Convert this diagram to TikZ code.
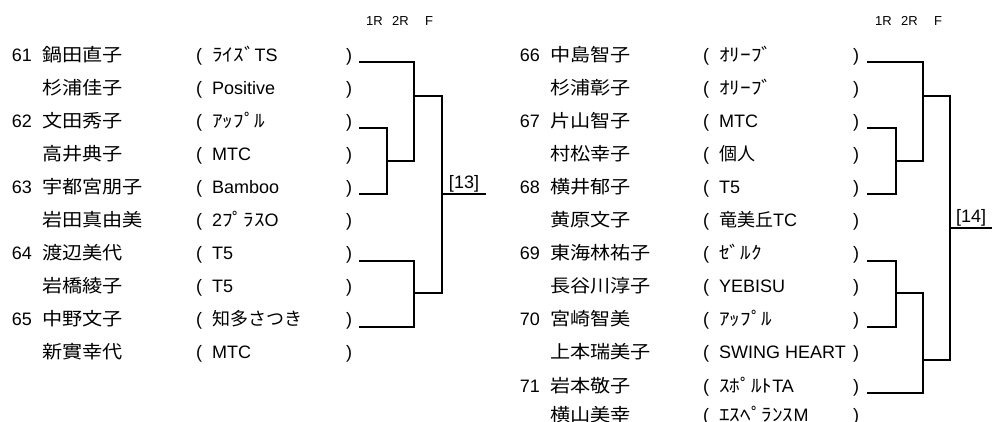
\documentclass[tikz,border=0pt]{standalone}
\usepackage{fontspec}
\setmainfont{Liberation Sans}
\newfontfamily\namefont[FakeStretch=1.12]{Noto Sans CJK JP}
\newfontfamily\kanafont{Noto Sans CJK JP}
\newfontfamily\hkanafont[FakeStretch=1.18]{Noto Sans CJK JP}
\newcommand{\jp}[1]{{\kanafont #1}}
\newcommand{\hk}[1]{{\hkanafont #1}}
\tikzstyle{txt}=[inner sep=0pt, anchor=base west, font=\fontsize{18}{18}\selectfont]
\tikzstyle{seed}=[txt, anchor=base east]
\tikzstyle{player}=[txt, font=\fontsize{18}{18}\selectfont\namefont]
\tikzstyle{rnd}=[inner sep=0pt, anchor=base west, font=\fontsize{13}{13}\selectfont]
\tikzstyle{bracket}=[line width=2pt]

\begin{document}
\begin{tikzpicture}[x=1pt,y=-1pt]
    \useasboundingbox (0,0) rectangle (992,421);
    % round headers
    \node [rnd] (L-h1) at (366,25) {1R};
    \node [rnd] (L-h2) at (392,25) {2R};
    \node [rnd] (L-h3) at (425,25) {F};
    \node [rnd] (R-h1) at (875,25) {1R};
    \node [rnd] (R-h2) at (901,25) {2R};
    \node [rnd] (R-h3) at (934,25) {F};
    % left block
    \foreach \i/\n/\nm/\tm in {0/61/鍋田直子/{\hk{ﾗｲｽﾞ}TS}, 1//杉浦佳子/Positive,
        2/62/文田秀子/{\hk{ｱｯﾌﾟﾙ}}, 3//高井典子/MTC, 4/63/宇都宮朋子/Bamboo,
        5//岩田真由美/{2\hk{ﾌﾟﾗｽ}O}, 6/64/渡辺美代/T5, 7//岩橋綾子/T5,
        8/65/中野文子/{\jp{知多さつき}}, 9//新實幸代/MTC} {
        \node [seed] (L-num-\i) at (32,{61+33.1*\i}) {\n};
        \node [player] (L-nm-\i) at (42,{61+33.1*\i}) {\nm};
        \node [txt] (L-op-\i) at (196,{61+33.1*\i}) {(};
        \node [txt] (L-tm-\i) at (212,{61+33.1*\i}) {\tm};
        \node [txt] (L-cp-\i) at (346,{61+33.1*\i}) {)};
        \coordinate (L-\i) at (359,{62+round(33.1*\i)});
    }
    % right block (last row sits a little higher)
    \foreach \i/\n/\nm/\tm in {0/66/中島智子/{\hk{ｵﾘｰﾌﾞ}}, 1//杉浦彰子/{\hk{ｵﾘｰﾌﾞ}},
        2/67/片山智子/MTC, 3//村松幸子/{\jp{個人}}, 4/68/横井郁子/T5,
        5//黄原文子/{\jp{竜美丘}TC}, 6/69/東海林祐子/{\hk{ｾﾞﾙｸ}}, 7//長谷川淳子/YEBISU,
        8/70/宮崎智美/{\hk{ｱｯﾌﾟﾙ}}, 9//上本瑞美子/SWING HEART,
        10/71/岩本敬子/{\hk{ｽﾎﾟﾙﾄ}TA}, 11//横山美幸/{\hk{ｴｽﾍﾟﾗﾝｽ}M}} {
        \node [seed] (R-num-\i) at (540,{61+33.1*\i-4*(\i==11)}) {\n};
        \node [player] (R-nm-\i) at (550,{61+33.1*\i-4*(\i==11)}) {\nm};
        \node [txt] (R-op-\i) at (703,{61+33.1*\i-4*(\i==11)}) {(};
        \node [txt] (R-tm-\i) at (719,{61+33.1*\i-4*(\i==11)}) {\tm};
        \node [txt] (R-cp-\i) at (853,{61+33.1*\i-4*(\i==11)}) {)};
        \coordinate (R-\i) at (867,{62+round(33.1*\i)});
    }
    % left draw
    \coordinate (La) at (387,161);
    \coordinate (Lb) at (414,96);
    \coordinate (Lc) at (414,293);
    \coordinate (Lf) at (442,194);
    \coordinate (Lend) at (486,194);
    \draw [bracket] (L-2) -| (La) |- (L-4);
    \draw [bracket] (L-0) -| (Lb) |- (La);
    \draw [bracket] (L-6) -| (Lc) |- (L-8);
    \draw [bracket] (Lb) -| (Lf) |- (Lc);
    \draw [bracket] (Lf) -- node [above, inner sep=1pt, font=\fontsize{18}{18}\selectfont] {[13]} (Lend);
    % right draw
    \coordinate (Ra) at (896,161);
    \coordinate (Rb) at (923,96);
    \coordinate (Rc) at (896,293);
    \coordinate (Rd) at (923,360);
    \coordinate (Rf) at (950,228);
    \coordinate (Rend) at (992,228);
    \draw [bracket] (R-2) -| (Ra) |- (R-4);
    \draw [bracket] (R-0) -| (Rb) |- (Ra);
    \draw [bracket] (R-6) -| (Rc) |- (R-8);
    \draw [bracket] (Rc) -| (Rd) |- (R-10);
    \draw [bracket] (Rb) -| (Rf) |- (Rd);
    \draw [bracket] (Rf) -- node [above, inner sep=1pt, font=\fontsize{18}{18}\selectfont] {[14]} (Rend);
\end{tikzpicture}
\end{document}
